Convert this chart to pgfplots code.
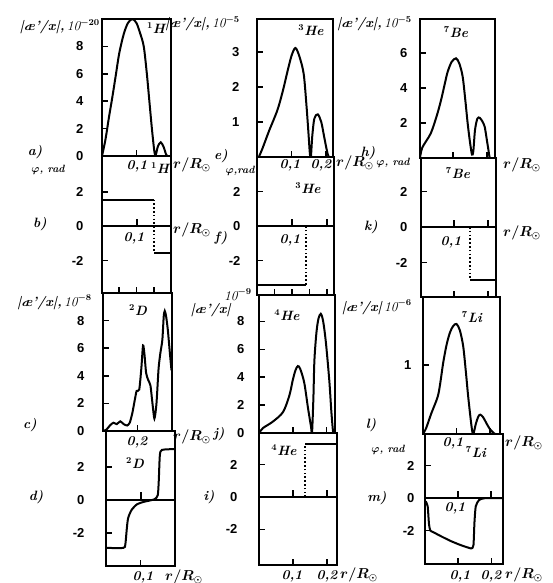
\documentclass[border=0pt]{standalone}
\usepackage{fontspec}
\setsansfont{Liberation Sans}
\usepackage{pgfplots}
\pgfplotsset{compat=1.18}

\newcommand\tf{\fontsize{13}{15}\selectfont\sffamily\bfseries}
\newcommand\hw{\fontsize{13.5}{15}\selectfont\bfseries\itshape\boldmath}
\newcommand\sm{\fontsize{10.5}{12}\selectfont\bfseries\itshape\boldmath}
\newcommand\rr{$r/R_\odot$}

\pgfplotsset{
  panel/.style={scale only axis, anchor=north west, xmin=0,
    axis line style={line width=1.9pt},
    every tick/.style={black, line width=1.7pt},
    tick align=inside, major tick length=6pt,
    xtick pos=bottom, ytick pos=left, xticklabels={},
    /pgf/number format/assume math mode=true,
    yticklabel style={font=\tf, anchor=east}},
  cv/.style={black, mark=none, line width=2pt},
  dot/.style={black, mark=none, line width=2pt, dash pattern=on 1.6pt off 2.2pt},
}

\begin{document}
\begin{tikzpicture}
\useasboundingbox (0,0) rectangle (552pt,-583pt);

% ---------- column 1 ----------
% a) 1H
\begin{axis}[panel, at={(102pt,-19pt)}, width=69pt, height=137pt,
  xmax=0.2, ymin=0, ymax=10, xtick={0.1}, ytick={0,2,4,6,8},
  yticklabel style={xshift=-15pt}]
\addplot[cv, smooth] coordinates {(0,0)(0.01,1.2)(0.02,2.8)(0.03,4.3)(0.04,5.9)(0.05,7.5)(0.063,8.9)(0.075,9.7)(0.088,10)(0.1,9.7)(0.11,9.0)(0.121,8.0)(0.13,6)(0.138,3.8)(0.145,1.9)(0.152,0.3)(0.156,0.1)(0.162,0.7)(0.17,1.0)(0.178,0.7)(0.186,0.1)(0.19,0)(0.2,0)};
\end{axis}
% b) phase 1H
\begin{axis}[panel, at={(102pt,-156pt)}, width=69pt, height=137pt,
  xmax=0.2, ymin=-3.9, ymax=4.1, xtick={}, ytick={-2,0,2},
  yticklabel style={xshift=-15pt}]
\addplot[cv] coordinates {(0,0)(0.2,0)};
\addplot[cv] coordinates {(0.1,0)(0.1,0.4)};
\addplot[cv] coordinates {(0,1.55)(0.151,1.55)};
\addplot[dot] coordinates {(0.151,1.55)(0.151,-1.55)};
\addplot[cv] coordinates {(0.151,-1.55)(0.2,-1.55)};
\end{axis}
% c) 2D
\begin{axis}[panel, at={(103pt,-293pt)}, width=69pt, height=138pt,
  xmax=0.4, ymin=0, ymax=10, xtick={0.2}, ytick={0,2,4,6,8},
  yticklabel style={xshift=-15pt}]
\addplot[cv, smooth, tension=0.4] coordinates {(0.0,0)(0.02,0.1)(0.04,0.4)(0.06,0.6)(0.08,0.5)(0.1,0.7)(0.12,0.5)(0.14,0.4)(0.155,0.6)(0.17,1.3)(0.185,2.3)(0.195,2.9)(0.21,3.0)(0.222,4.5)(0.232,6.2)(0.24,5.6)(0.25,4.2)(0.262,3.7)(0.275,3.3)(0.285,2.2)(0.298,0.9)(0.31,2.0)(0.322,4.5)(0.332,5.6)(0.344,6.6)(0.352,8.3)(0.358,8.7)(0.366,8.3)(0.376,7.3)(0.388,5.6)(0.397,4.4)};
\end{axis}
% d) phase 2D
\begin{axis}[panel, at={(106pt,-431pt)}, width=69pt, height=135pt,
  xmax=0.2, ymin=-4.0, ymax=4.2, xtick={0.1}, ytick={-2,0,2},
  yticklabel style={xshift=-18pt}]
\addplot[cv] coordinates {(0,0)(0.2,0)};
\addplot[cv] coordinates {(0.1,0)(0.1,0.5)};
\addplot[cv, smooth, tension=0.4] coordinates {(0,-2.9)(0.05,-2.9)(0.056,-2.7)(0.06,-1.8)(0.064,-1.1)(0.074,-0.6)(0.09,-0.25)(0.11,-0.1)(0.14,0.05)(0.15,0.3)(0.153,1.2)(0.156,2.7)(0.162,3.05)(0.2,3.1)};
\end{axis}

% ---------- column 2 ----------
% e) 3He
\begin{axis}[panel, at={(257pt,-19pt)}, width=76pt, height=138pt,
  xmax=0.22, ymin=0, ymax=3.95, xtick={0.1,0.2}, ytick={1,2,3},
  yticklabel style={xshift=-14pt}]
\addplot[cv, smooth] coordinates {(0,0)(0.005,0)(0.016,0.25)(0.035,0.75)(0.059,1.34)(0.075,1.9)(0.088,2.44)(0.1,2.9)(0.111,3.12)(0.122,2.9)(0.135,2.39)(0.143,1.5)(0.149,0.68)(0.153,0.1)(0.156,0)(0.16,0.6)(0.166,1.1)(0.176,1.22)(0.186,1.0)(0.194,0.6)(0.202,0.2)(0.208,0)(0.22,0)};
\end{axis}
% f) phase 3He
\begin{axis}[panel, at={(257pt,-157pt)}, width=77pt, height=138pt,
  xmax=0.22, ymin=-4, ymax=4, xtick={}, ytick={-2,0,2},
  yticklabel style={xshift=-13pt}]
\addplot[cv] coordinates {(0,0)(0.22,0)};
\addplot[cv] coordinates {(0.1,0)(0.1,0.4)};
\addplot[cv] coordinates {(0.2,0)(0.2,0.4)};
\addplot[cv] coordinates {(0,-3.4)(0.14,-3.4)};
\addplot[dot] coordinates {(0.14,-3.4)(0.14,0)};
\end{axis}
% j) 4He
\begin{axis}[panel, at={(259pt,-295pt)}, width=76pt, height=138pt,
  xmax=0.225, ymin=0, ymax=9.9, xtick={0.1,0.2}, ytick={0,2,4,6,8},
  yticklabel style={xshift=-11pt}]
\addplot[cv, smooth] coordinates {(0,0)(0.012,0.36)(0.04,0.8)(0.071,1.5)(0.09,2.7)(0.1,3.8)(0.108,4.5)(0.115,4.8)(0.122,4.6)(0.134,3.6)(0.145,1.8)(0.154,0.45)(0.157,0)(0.161,2.5)(0.164,5.2)(0.17,7.2)(0.176,8.2)(0.183,8.55)(0.19,8.0)(0.198,6.5)(0.208,3.8)(0.214,1.6)(0.218,0.4)(0.22,0)(0.225,0)};
\end{axis}
% i) phase 4He
\begin{axis}[panel, at={(259pt,-433pt)}, width=78pt, height=132pt,
  xmax=0.23, ymin=-4.2, ymax=3.95, xtick={0.1,0.2}, ytick={-2,0,2},
  yticklabel style={xshift=-18pt}]
\addplot[cv] coordinates {(0,0)(0.23,0)};
\addplot[cv] coordinates {(0.1,0)(0.1,0.45)};
\addplot[cv] coordinates {(0.2,0)(0.2,0.45)};
\addplot[dot] coordinates {(0.136,0)(0.136,3.26)};
\addplot[cv] coordinates {(0.136,3.26)(0.23,3.26)};
\end{axis}

% ---------- column 3 ----------
% h) 7Be
\begin{axis}[panel, at={(420pt,-19pt)}, width=75pt, height=139pt,
  xmax=0.225, ymin=0, ymax=7.95, xtick={0.1,0.2}, ytick={2,4,6},
  yticklabel style={xshift=-9pt}]
\addplot[cv, smooth] coordinates {(0,0)(0.007,0.6)(0.032,1.4)(0.05,2.4)(0.063,3.3)(0.075,4.3)(0.083,4.93)(0.095,5.5)(0.108,5.7)(0.118,5.4)(0.128,4.65)(0.136,3.3)(0.143,1.98)(0.15,0.9)(0.156,0.2)(0.16,0.4)(0.165,1.6)(0.172,2.25)(0.179,2.3)(0.187,2.1)(0.194,1.79)(0.2,1.1)(0.205,0.5)(0.21,0)(0.225,0)};
\end{axis}
% k) phase 7Be
\begin{axis}[panel, at={(421pt,-158pt)}, width=75pt, height=139pt,
  xmax=0.225, ymin=-3.95, ymax=3.9, xtick={}, ytick={-2,0,2},
  yticklabel style={xshift=-10pt}]
\addplot[cv] coordinates {(0,0)(0.225,0)};
\addplot[cv] coordinates {(0.1,0)(0.1,0.4)};
\addplot[cv] coordinates {(0.2,0)(0.2,0.4)};
\addplot[dot] coordinates {(0.147,0)(0.147,-3.0)};
\addplot[cv] coordinates {(0.147,-3.0)(0.225,-3.0)};
\end{axis}
% l) 7Li
\begin{axis}[panel, at={(423pt,-297pt)}, width=77pt, height=137pt,
  xmax=0.23, ymin=0, ymax=1.98, xtick={0.1,0.2}, ytick={1},
  yticklabel style={xshift=-8pt}]
\addplot[cv, smooth] coordinates {(0,0)(0.009,0.08)(0.025,0.3)(0.044,0.54)(0.052,0.75)(0.06,1.02)(0.07,1.28)(0.08,1.46)(0.09,1.56)(0.1,1.59)(0.11,1.5)(0.12,1.27)(0.128,0.9)(0.135,0.54)(0.145,0.11)(0.15,0)(0.158,0.15)(0.165,0.25)(0.171,0.28)(0.18,0.24)(0.19,0.15)(0.2,0.07)(0.21,0.02)(0.215,0)(0.23,0)};
\end{axis}
% m) phase 7Li
\begin{axis}[panel, at={(425pt,-434pt)}, width=78pt, height=130pt,
  xmax=0.235, ymin=-4.06, ymax=3.94, xtick={0.1,0.2}, ytick={-2,0,2},
  yticklabel style={xshift=-7pt}]
\addplot[cv] coordinates {(0,0)(0.235,0)};
\addplot[cv] coordinates {(0.1,0)(0.1,0.45)};
\addplot[cv] coordinates {(0.2,0)(0.2,0.45)};
\addplot[cv, smooth, tension=0.4] coordinates {(0.002,-0.2)(0.008,-0.5)(0.012,-1.6)(0.016,-2.0)(0.025,-2.1)(0.048,-2.35)(0.078,-2.65)(0.108,-2.9)(0.13,-3.05)(0.14,-3.1)(0.146,-2.9)(0.149,-1.5)(0.153,-0.5)(0.163,-0.12)(0.175,-0.03)(0.188,0)(0.235,0)};
\end{axis}

% ---------- texts ----------
\begin{scope}[every node/.style={inner sep=0pt}]
% column 1
\node[anchor=base east, font=\hw] at (100pt,-31pt) {|æ'/x|,\,\textmd{10}$^{-20}$};
\node[font=\hw] at (156pt,-28pt) {$^1$H};
\node[font=\hw] at (35pt,-152pt) {a)};
\node[font=\sm] at (48pt,-170pt) {$\varphi$, rad};
\node[font=\hw] at (137pt,-166pt) {0,1};
\node[font=\hw] at (160pt,-168pt) {$^1$H};
\node[anchor=west, font=\hw] at (173pt,-165pt) {\rr};
\node[font=\hw] at (40pt,-224pt) {b)};
\node[font=\hw] at (134pt,-238pt) {0,1};
\node[anchor=west, font=\hw] at (173pt,-230pt) {\rr};
\node[anchor=base east, font=\hw] at (92pt,-306pt) {|æ'/x|,\,\textmd{10}$^{-8}$};
\node[font=\hw] at (138pt,-310pt) {$^2$D};
\node[font=\hw] at (30pt,-425pt) {c)};
\node[font=\hw] at (137pt,-442pt) {0,2};
\node[anchor=west, font=\hw] at (173pt,-437pt) {\rr};
\node[font=\hw] at (135pt,-463pt) {$^2$D};
\node[font=\hw] at (36pt,-497pt) {d)};
\node[font=\hw] at (143pt,-577pt) {0,1};
\node[anchor=west, font=\hw] at (165pt,-577pt) {\rr};
% column 2
\node[anchor=base east, font=\hw] at (240pt,-28pt) {|æ'/x|,\,\textmd{10}$^{-5}$};
\node[font=\hw] at (311pt,-30pt) {$^3$He};
\node[font=\hw] at (221pt,-156pt) {e)};
\node[font=\sm] at (240pt,-171pt) {$\varphi$,rad};
\node[font=\hw] at (290pt,-165pt) {0,1};
\node[font=\hw] at (321pt,-165pt) {0,2};
\node[anchor=west, font=\hw] at (336pt,-163pt) {\rr};
\node[font=\hw] at (368pt,-153pt) {h)};
\node[font=\hw] at (308pt,-188pt) {$^3$He};
\node[font=\hw] at (221pt,-238pt) {f)};
\node[font=\hw] at (290pt,-240pt) {0,1};
\node[anchor=base east, font=\hw] at (231pt,-313pt) {|æ'/x|};
\node[anchor=base east, font=\hw] at (252pt,-300pt) {\textmd{10}$^{-9}$};
\node[font=\hw] at (287pt,-315pt) {$^4$He};
\node[font=\hw] at (219pt,-434pt) {j)};
\node[font=\hw] at (284pt,-450pt) {$^4$He};
\node[font=\hw] at (209pt,-497pt) {i)};
\node[font=\hw] at (292pt,-576pt) {0,1};
\node[font=\hw] at (327pt,-576pt) {0,2};
\node[anchor=west, font=\hw] at (340pt,-575pt) {\rr};
% column 3
\node[anchor=base east, font=\hw] at (412pt,-28pt) {|æ'/x|,\,\textmd{10}$^{-5}$};
\node[font=\hw] at (456pt,-32pt) {$^7$Be};
\node[font=\sm] at (393pt,-163pt) {$\varphi$, rad};
\node[font=\hw] at (458pt,-173pt) {$^7$Be};
\node[anchor=west, font=\hw] at (503pt,-165pt) {\rr};
\node[font=\hw] at (371pt,-227pt) {k)};
\node[font=\hw] at (451pt,-242pt) {0,1};
\node[anchor=west, font=\hw] at (503pt,-233pt) {\rr};
\node[anchor=base east, font=\hw] at (412pt,-311pt) {|æ'/x|\,\textmd{10}$^{-6}$};
\node[font=\hw] at (472pt,-317pt) {$^7$Li};
\node[font=\hw] at (371pt,-425pt) {l)};
\node[font=\sm] at (388pt,-450pt) {$\varphi$, rad};
\node[font=\hw] at (453pt,-443pt) {0,1};
\node[font=\hw] at (476pt,-452pt) {$^7$Li};
\node[anchor=west, font=\hw] at (505pt,-443pt) {\rr};
\node[font=\hw] at (377pt,-498pt) {m)};
\node[font=\hw] at (455pt,-508pt) {0,1};
\node[font=\hw] at (460pt,-576pt) {0,1};
\node[font=\hw] at (491pt,-576pt) {0,2};
\node[anchor=west, font=\hw] at (505pt,-575pt) {\rr};
\end{scope}
\end{tikzpicture}
\end{document}
